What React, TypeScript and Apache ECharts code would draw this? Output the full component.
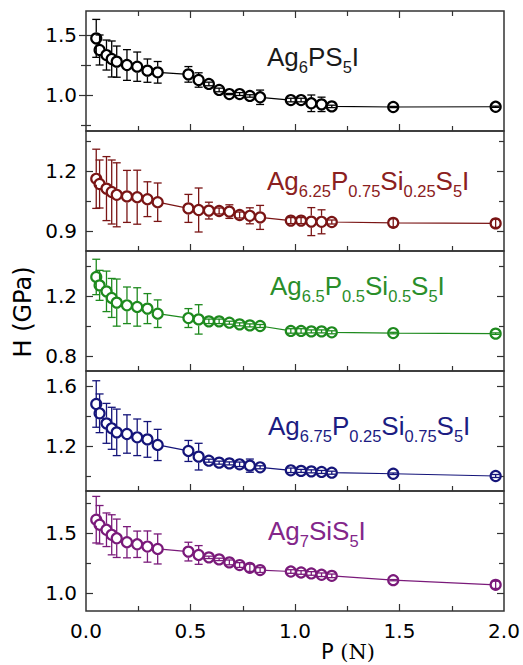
import React, { useEffect, useRef } from 'react';
import * as echarts from 'echarts';

// Load P (N)
const P_N = [0.049, 0.065, 0.098, 0.123, 0.147, 0.196, 0.245, 0.294, 0.343, 0.49, 0.539, 0.588, 0.637, 0.686, 0.735, 0.784, 0.833, 0.98, 1.029, 1.078, 1.127, 1.176, 1.47, 1.96];

// Hardness H (GPa) and error bars for each composition
const H_x0 = [1.472, 1.375, 1.333, 1.3, 1.278, 1.25, 1.236, 1.203, 1.189, 1.172, 1.125, 1.092, 1.042, 1.008, 1.008, 0.992, 0.981, 0.958, 0.958, 0.931, 0.922, 0.905, 0.9, 0.902];
const E_x0 = [0.158, 0.125, 0.125, 0.15, 0.13, 0.128, 0.122, 0.097, 0.09, 0.065, 0.06, 0.015, 0.015, 0.005, 0.012, 0.01, 0.06, 0.015, 0.015, 0.069, 0.06, 0.01, 0.005, 0.005];

const H_x25 = [1.161, 1.135, 1.112, 1.095, 1.081, 1.073, 1.069, 1.059, 1.044, 1.013, 1.005, 1.002, 1.0, 0.997, 0.98, 0.976, 0.968, 0.952, 0.952, 0.947, 0.946, 0.945, 0.941, 0.938];
const E_x25 = [0.148, 0.12, 0.16, 0.16, 0.16, 0.13, 0.135, 0.087, 0.096, 0.07, 0.11, 0.042, 0.015, 0.034, 0.015, 0.04, 0.06, 0.015, 0.015, 0.07, 0.06, 0.01, 0.02, 0.02];

const H_x50 = [1.327, 1.271, 1.231, 1.187, 1.156, 1.138, 1.127, 1.116, 1.082, 1.053, 1.044, 1.031, 1.031, 1.022, 1.011, 1.004, 1.0, 0.967, 0.967, 0.964, 0.964, 0.958, 0.953, 0.949];
const E_x50 = [0.118, 0.1, 0.135, 0.13, 0.157, 0.122, 0.128, 0.1, 0.092, 0.063, 0.098, 0.015, 0.015, 0.01, 0.01, 0.01, 0.01, 0.015, 0.015, 0.01, 0.01, 0.01, 0.005, 0.005];

const H_x75 = [1.48, 1.418, 1.351, 1.318, 1.291, 1.28, 1.258, 1.244, 1.207, 1.167, 1.129, 1.102, 1.089, 1.084, 1.078, 1.069, 1.058, 1.038, 1.034, 1.031, 1.027, 1.022, 1.015, 1.0];
const E_x75 = [0.155, 0.129, 0.133, 0.14, 0.155, 0.128, 0.122, 0.119, 0.104, 0.07, 0.089, 0.01, 0.01, 0.01, 0.015, 0.044, 0.01, 0.015, 0.01, 0.01, 0.01, 0.01, 0.005, 0.01];

const H_x100 = [1.611, 1.569, 1.527, 1.485, 1.456, 1.423, 1.406, 1.387, 1.367, 1.345, 1.317, 1.297, 1.28, 1.255, 1.233, 1.21, 1.191, 1.179, 1.171, 1.163, 1.152, 1.143, 1.107, 1.068];
const E_x100 = [0.194, 0.16, 0.14, 0.167, 0.16, 0.13, 0.11, 0.13, 0.125, 0.078, 0.078, 0.01, 0.01, 0.02, 0.02, 0.03, 0.02, 0.015, 0.015, 0.015, 0.015, 0.015, 0.005, 0.03];

// Labels
const LABELS = [
  '{m|Ag}{s|6}{m|PS}{s|5}{m|I}',
  '{m|Ag}{s|6.25}{m|P}{s|0.75}{m|Si}{s|0.25}{m|S}{s|5}{m|I}',
  '{m|Ag}{s|6.5}{m|P}{s|0.5}{m|Si}{s|0.5}{m|S}{s|5}{m|I}',
  '{m|Ag}{s|6.75}{m|P}{s|0.25}{m|Si}{s|0.75}{m|S}{s|5}{m|I}',
  '{m|Ag}{s|7}{m|SiS}{s|5}{m|I}',
];
const SERIES_H = [H_x0, H_x25, H_x50, H_x75, H_x100];
const SERIES_E = [E_x0, E_x25, E_x50, E_x75, E_x100];
const COLORS = ['#000000', '#7a1515', '#1e8a1e', '#15157a', '#7a1a7a'];
const TEXT_COLORS = ['#1a1a1a', '#8b2020', '#2a8e2a', '#1c1c82', '#83268a'];

// Y axis ranges and ticks
const Y_MIN = [0.7, 0.8, 0.7, 0.9, 0.85];
const Y_MAX = [1.7, 1.4, 1.5, 1.7, 1.85];
const Y_MAJOR = [[1.0, 1.5], [0.9, 1.2], [0.8, 1.2], [1.2, 1.6], [1.0, 1.5]];
const Y_MINOR = [[0.75, 1.25], [1.05, 1.35], [1.0, 1.4], [1.0, 1.4], [1.25, 1.75]];
const X_MAJOR = [0.5, 1.0, 1.5];
const X_MINOR = [0.25, 0.75, 1.25, 1.75];
const X_LABELS = [0, 0.5, 1.0, 1.5, 2.0];

const W = 523;
const H = 665;
const GRID_LEFT = 86;
const GRID_RIGHT = 19;
const GRID_TOPS = [11, 131, 251, 371, 491];
const GRID_H = 120;
const LABEL_BASE = [66, 190, 295, 435, 540];
const LABEL_LEFT = [267, 267, 270, 268, 268];

export default function App() {
  const ref = useRef<HTMLDivElement>(null);
  useEffect(() => {
    if (!ref.current) return;
    const chart = echarts.init(ref.current, undefined, { renderer: 'svg' });
    const frame = '#333333';
    const grids: any[] = [];
    const xAxes: any[] = [];
    const yAxes: any[] = [];
    const series: any[] = [];
    const graphics: any[] = [];

    for (let i = 0; i < 5; i++) {
      grids.push({
        left: GRID_LEFT, right: GRID_RIGHT, top: GRID_TOPS[i], height: GRID_H,
        show: true, borderColor: frame, borderWidth: 1.5, backgroundColor: 'transparent',
      });
      const xBase = (position: string, ticks: number[], len: number, labels: boolean) => ({
        type: 'value', gridIndex: i, min: 0, max: 2, position,
        axisLine: { show: false }, splitLine: { show: false },
        axisTick: { show: true, inside: true, length: len, customValues: ticks, lineStyle: { color: frame, width: 1.2 } },
        axisLabel: labels
          ? { show: true, customValues: X_LABELS, formatter: (v: number) => v.toFixed(1), fontFamily: 'DejaVu Sans', fontSize: 20, color: '#000', margin: 10 }
          : { show: false },
      });
      const mainX = xAxes.length;
      xAxes.push(xBase('bottom', X_MAJOR, 7, i === 4));
      xAxes.push(xBase('bottom', X_MINOR, 5, false));
      if (i === 0) {
        xAxes.push(xBase('top', X_MAJOR, 7, false));
        xAxes.push(xBase('top', X_MINOR, 5, false));
      }
      const yBase = (position: string, ticks: number[], len: number, labels: boolean) => ({
        type: 'value', gridIndex: i, min: Y_MIN[i], max: Y_MAX[i], position,
        axisLine: { show: false }, splitLine: { show: false },
        axisTick: { show: true, inside: true, length: len, customValues: ticks, lineStyle: { color: frame, width: 1.2 } },
        axisLabel: labels
          ? { show: true, customValues: Y_MAJOR[i], formatter: (v: number) => v.toFixed(1), fontFamily: 'DejaVu Sans', fontSize: 20, color: '#000', margin: 9 }
          : { show: false },
      });
      const mainY = yAxes.length;
      yAxes.push(yBase('left', Y_MAJOR[i], 7, true));
      yAxes.push(yBase('left', Y_MINOR[i], 5, false));
      yAxes.push(yBase('right', Y_MAJOR[i], 7, false));
      yAxes.push(yBase('right', Y_MINOR[i], 5, false));

      const col = COLORS[i];
      const hv = SERIES_H[i];
      const ev = SERIES_E[i];
      series.push({
        type: 'line', xAxisIndex: mainX, yAxisIndex: mainY,
        data: P_N.map((x, k) => [x, hv[k]]),
        symbol: 'circle', symbolSize: 10,
        itemStyle: { color: '#ffffff', borderColor: col, borderWidth: 2.2 },
        lineStyle: { color: col, width: 1.2 },
        z: 2, silent: true,
      });
      series.push({
        type: 'custom', xAxisIndex: mainX, yAxisIndex: mainY,
        data: P_N.map((x, k) => [x, hv[k], ev[k]]),
        encode: { x: 0, y: 1 },
        z: 3, silent: true,
        renderItem: (params: any, api: any) => {
          const x = api.value(0);
          const y = api.value(1);
          const e = api.value(2);
          const c = api.coord([x, y]);
          const t = api.coord([x, y + e]);
          const b = api.coord([x, y - e]);
          const r = 6;
          const hw = 4;
          const style = { stroke: col, lineWidth: 1.3, fill: null };
          const children: any[] = [
            { type: 'line', shape: { x1: c[0] - hw, y1: t[1], x2: c[0] + hw, y2: t[1] }, style },
            { type: 'line', shape: { x1: c[0] - hw, y1: b[1], x2: c[0] + hw, y2: b[1] }, style },
          ];
          if (c[1] - t[1] > r) {
            children.push({ type: 'line', shape: { x1: c[0], y1: t[1], x2: c[0], y2: c[1] - r }, style });
            children.push({ type: 'line', shape: { x1: c[0], y1: c[1] + r, x2: c[0], y2: b[1] }, style });
          } else {
            children.push({ type: 'line', shape: { x1: c[0], y1: t[1], x2: c[0], y2: b[1] }, style });
          }
          return { type: 'group', children };
        },
      });

      const tc = TEXT_COLORS[i];
      // main text center at y, baseline ~ y + 9; subscripts shifted down by padding/2
      graphics.push({
        type: 'text', x: LABEL_LEFT[i], y: LABEL_BASE[i] - 9, silent: true,
        style: {
          text: LABELS[i], fill: tc, verticalAlign: 'middle', align: 'left',
          rich: {
            m: { fontSize: 26, fontFamily: 'Liberation Sans', fill: tc, color: tc },
            s: { fontSize: 16.5, fontFamily: 'Liberation Sans', fill: tc, color: tc, padding: [20, 0, 0, 0] },
          },
        },
      });
    }

    graphics.push({
      type: 'text', x: 348, y: 652, silent: true,
      style: {
        text: '{a|P }{b|(N)}', align: 'center', verticalAlign: 'middle', fill: '#000',
        rich: {
          a: { fontSize: 21, fontFamily: 'DejaVu Sans', fill: '#000', color: '#000' },
          b: { fontSize: 21, fontFamily: 'DejaVu Serif', fill: '#000', color: '#000' },
        },
      },
    });
    graphics.push({
      type: 'text', x: 23, y: 312, rotation: Math.PI / 2, silent: true,
      style: {
        text: 'H (GPa)', align: 'center', verticalAlign: 'middle', fill: '#000',
        fontSize: 24, fontFamily: 'DejaVu Sans',
      },
    });

    chart.setOption({
      animation: false,
      backgroundColor: '#ffffff',
      grid: grids,
      xAxis: xAxes,
      yAxis: yAxes,
      series,
      graphic: graphics,
    });
    return () => chart.dispose();
  }, []);
  return <div ref={ref} style={{ position: 'fixed', left: 0, top: 0, width: W, height: H }} />;
}
